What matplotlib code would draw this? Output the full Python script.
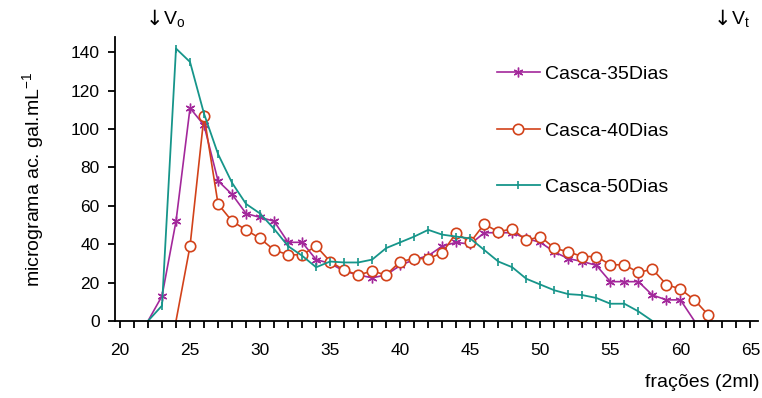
import matplotlib
matplotlib.use("Agg")
import matplotlib.pyplot as plt
from matplotlib.ticker import MultipleLocator

plt.rcParams['font.family'] = ['Liberation Sans', 'DejaVu Sans']
plt.rcParams['mathtext.default'] = 'regular'

# fractions collected (2 ml each) and galacturonic acid content per fraction
frac_35 = list(range(22, 62))
casca_35 = [0, 13, 52, 111, 102, 73, 66, 56, 54, 52, 41, 41, 32, 30, 26, 24, 22.5, 24,
            29, 32, 34, 39, 41, 40, 46, 46, 46, 43, 41, 36, 32.5, 31, 29, 20.5, 20.5,
            20.5, 13.5, 11, 11, 0]

frac_40 = list(range(24, 63))
casca_40 = [0, 39, 107, 61, 52, 47.5, 43, 37, 34.5, 34.5, 39, 31, 26.5, 24, 26, 24, 31,
            32.5, 32.5, 35.5, 46, 41, 50.5, 46.5, 48, 42, 44, 38, 36, 33.6, 33.6, 29.3,
            29.3, 25.3, 27, 19, 16.6, 11, 3]

frac_50 = list(range(22, 59))
casca_50 = [0, 8, 142, 135, 108, 87, 72, 61, 56, 48, 39, 34, 28, 31, 30.5, 30.5, 32, 38,
            41, 44, 47.5, 45, 44, 43, 37, 31, 28, 22, 19, 16, 14, 13.5, 12, 9, 9, 5, 0]

labels = ['Casca-35Dias', 'Casca-40Dias', 'Casca-50Dias']


def nonzero(vals):
    # markers only where something was measured
    return [i for i, v in enumerate(vals) if v > 0]


fig = plt.figure(figsize=(7.62, 3.98), dpi=100)
ax = fig.add_axes([0.151, 0.1935, 0.844, 0.7135])

ax.plot(frac_35, casca_35, color='#a3289b', lw=1.2, marker=(6, 2, 0), ms=7,
        mew=1.0, markevery=nonzero(casca_35), label=labels[0])
ax.plot(frac_40, casca_40, color='#d2421a', lw=1.2, marker='o', ms=7.5,
        mfc='white', mec='#d2421a', mew=1.2, markevery=nonzero(casca_40),
        label=labels[1])
ax.plot(frac_50, casca_50, color='#16958a', lw=1.3, marker='|', ms=6,
        mew=1.2, markevery=nonzero(casca_50), label=labels[2])

ax.set_xlim(19.65, 65.55)
ax.set_ylim(0, 148)
ax.xaxis.set_minor_locator(MultipleLocator(1))
ax.set_xticks(range(20, 66, 5))
ax.set_yticks(range(0, 141, 20))

for s in ['top', 'right']:
    ax.spines[s].set_visible(False)
for s in ['left', 'bottom']:
    ax.spines[s].set_linewidth(1.3)

ax.tick_params(axis='both', which='major', direction='out', length=5, width=1.3,
               labelsize=12.5, pad=6)
ax.tick_params(axis='x', which='minor', direction='out', length=5, width=1.3)
ax.tick_params(axis='x', which='major', pad=11)

ax.set_ylabel('micrograma ac. gal.mL$^{-1}$', fontsize=14, labelpad=18)
fig.text(0.997, 0.028, 'frações (2ml)', fontsize=14, ha='right', va='baseline')

# elution markers above the plot
for xp, sub in [(146, 'o'), (714, 't')]:
    fig.text(xp / 762, 0.953, '↓', fontsize=15, va='center', family='DejaVu Sans')
    fig.text((xp + 17) / 762, 0.953, 'V$_{%s}$' % sub, fontsize=14, va='center')

fig.legend(loc='upper left', bbox_to_anchor=(0.652, 0.835), frameon=False,
           fontsize=14, numpoints=1, handlelength=2.2, handletextpad=0.3,
           labelspacing=2.0, borderpad=0, borderaxespad=0)

fig.savefig('out.png', dpi=100)
